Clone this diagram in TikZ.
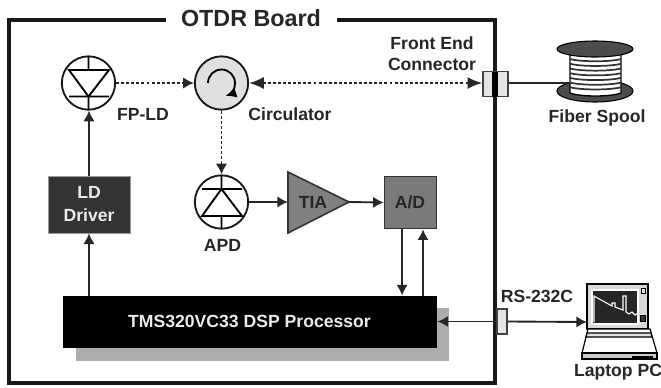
\documentclass[tikz,border=0pt]{standalone}
\usepackage{fontspec}
\setmainfont{Liberation Sans}
\usetikzlibrary{arrows.meta}
\tikzset{every picture/.style={line width=0.75pt}}
\tikzset{
  lbl/.style={anchor=center,inner sep=0pt,align=center,font=\fontsize{13.2pt}{15.8pt}\selectfont\bfseries,text=black!85},
  wlbl/.style={lbl,text=white!92!black},
  sig/.style={line width=1.4pt,draw=black!85,-{Latex[length=8pt,width=8.5pt]}},
  opt/.style={sig,dash pattern=on 2.2pt off 1.6pt},
  blk/.style={draw=black!80,line width=1.2pt,inner sep=0pt},
  dev/.style={circle,draw=black!90,line width=1.4pt,minimum size=40pt,inner sep=0pt},
  conn/.style={draw=black!75,fill=black!10,line width=1.1pt,inner sep=0pt},
}
\begin{document}
\begin{tikzpicture}[x=0.75pt,y=0.75pt,yscale=-1,xscale=1]
  \useasboundingbox (0,0) rectangle (661,387);
  % board outline
  \draw [line width=2.6pt,black!90] (166,20) -- (9,20) -- (9,383) -- (495,383) -- (495,20) -- (337,20);
  \node [lbl,font=\fontsize{17.5pt}{20pt}\selectfont\bfseries] (board) at (251,18) {OTDR Board};
  % laser diode
  \node [dev] (ld) at (88.5,83) {};
  \draw [line width=1.4pt] (88.5,56) -- (88.5,70) (69,70) -- (109,70) -- (88.5,96.5) -- cycle (69,96.5) -- (109,96.5) (88.5,96.5) -- (88.5,110);
  \node [lbl] (ldtxt) at (143,114) {FP-LD};
  % circulator
  \node [dev,fill=black!12] (circ) at (221.5,83) {};
  \draw [line width=1.4pt,-{Latex[length=8pt,width=8pt]}] (208,83) arc [start angle=180,end angle=432,radius=13.5];
  \node [lbl] (circtxt) at (290,114) {Circulator};
  % photodiode
  \node [dev] (apd) at (221.5,202) {};
  \draw [line width=1.4pt] (221.5,175) -- (221.5,189) (202,189) -- (242,189) (221.5,189) -- (202,216) -- (242,216) -- cycle (221.5,216) -- (221.5,229);
  \node [lbl] (apdtxt) at (222.5,245) {APD};
  % amplifier and converter
  \draw [blk,fill=black!50] (288,172) -- (349,202) -- (288,233) -- cycle;
  \coordinate (tiain) at (288,202);
  \coordinate (tiaout) at (349,202);
  \node [lbl] (tia) at (313,202) {TIA};
  \node [blk,fill=black!52,minimum width=39pt,minimum height=39pt] (adc) at (410.5,202.5) {};
  \node [lbl] (adctxt) at (410,202) {A/D};
  % driver
  \node [fill=black!80,draw=black!40,line width=0.5pt,minimum width=61.5pt,minimum height=42.75pt,inner sep=0pt] (drv) at (89,204.5) {};
  \node [wlbl] (drvtxt) at (89,204) {LD\\[2pt]Driver};
  % processor
  \fill [black!32] (76,308) rectangle (449,361);
  \node [fill=black,minimum width=280.5pt,minimum height=39pt,inner sep=0pt] (dsp) at (250,322) {};
  \node [wlbl] (dsptxt) at (249.5,321) {TMS320VC33 DSP Processor};
  % connectors on the board edge
  \node [conn,minimum width=18.75pt,minimum height=18.75pt] (fec) at (495.5,84) {};
  \fill [black] (492,72) rectangle (498,97);
  \node [lbl] (fectxt) at (432,53.5) {Front End\\[0.2pt]Connector};
  \node [conn,minimum width=7.5pt,minimum height=18.75pt] (rs) at (502,321.5) {};
  \node [lbl] (rstxt) at (537,296) {RS-232C};
  % spool
  \draw [fill=black!70,line width=0.8pt] (595,91) ellipse (38 and 11);
  \draw [fill=white,line width=1pt] (570,50) -- (570,93) .. controls (580,97) and (611,97) .. (621,93) -- (621,50) -- cycle;
  \foreach \y in {59,63.7,...,90} {
    \draw [line width=1.3pt,black!80] (570,\y) .. controls (580,\y+3) and (611,\y+3) .. (621,\y);
  }
  \draw [fill=black!70,line width=0.8pt] (595,49) ellipse (38 and 8);
  \coordinate (spool) at (570,83);
  \node [lbl] (spooltxt) at (597,118) {Fiber Spool};
  % laptop
  \draw [fill=black!15,line width=0.9pt] (587,284) rectangle (648,329);
  \draw [fill=black!85,draw=white,line width=0.9pt] (592,290) rectangle (638,324);
  \draw [white,line width=0.8pt] (594,322) -- (594,296) -- (612,306) -- (612,303) -- (615,303) -- (615,307) -- (623,310) -- (623,296) -- (626,296) -- (626,312) -- (629,314) -- (632,312) -- (635,315) -- (638,313);
  \draw [fill=black!10,line width=0.6pt] (641,288) rectangle (645,293);
  \draw [fill=black!80,line width=0.6pt] (640,315) rectangle (645,321);
  \draw [line width=0.9pt,fill=white] (588,329) -- (650,329) -- (657,353) -- (582,353) -- cycle;
  \draw [line width=0.9pt,fill=black!12] (587,333) -- (651,333) -- (652,337) -- (586,337) -- cycle;
  \draw [fill=black!20,line width=0.9pt] (582,353) rectangle (657,359);
  \fill [black] (632,355.5) rectangle (653,358);
  \coordinate (laptop) at (587,322);
  \node [lbl] (pctxt) at (618,372) {Laptop PC};
  % signal paths
  \draw [sig] (drv.north) -- (drv.north |- ld.south);
  \draw [sig] (drv.south |- dsp.north) -- (drv.south);
  \draw [opt] (ld.east) -- (circ.west);
  \draw [opt,{Latex[length=11pt,width=9pt]}-{Latex[length=11pt,width=9pt]}] (circ.east) -- (circ.east -| fec.west);
  \draw [opt] (circ.south) -- (apd.north);
  \draw [sig] (apd.east) -- (tiain);
  \draw [sig] (tiaout) -- (adc.west);
  \draw [sig] ([xshift=-6.3pt]adc.south) -- ([xshift=-6.3pt]adc.south |- dsp.north);
  \draw [sig] ([xshift=9.4pt]adc.south |- dsp.north) -- ([xshift=9.4pt]adc.south);
  \draw [line width=1.4pt,draw=black!85] (spool -| fec.east) -- (spool);
  \draw [sig] (rs.west) -- (rs.west -| dsp.east);
  \draw [sig] (rs.east) -- (laptop);
\end{tikzpicture}
\end{document}
